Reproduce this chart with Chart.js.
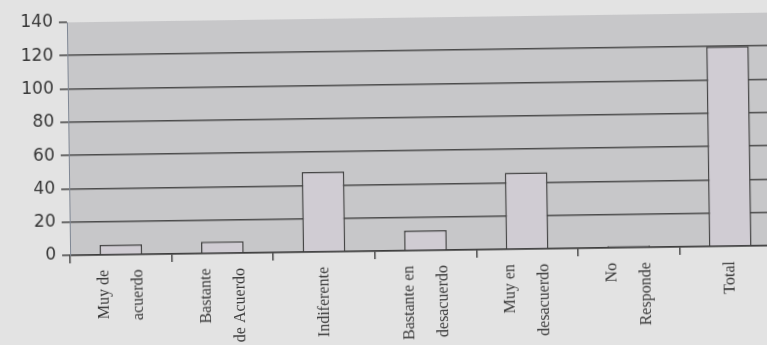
<!DOCTYPE html>
<html>
<head>
<meta charset="utf-8">
<script src="https://cdn.jsdelivr.net/npm/chart.js@4"></script>
<style>
  html, body { margin: 0; padding: 0; background: #e3e3e3; overflow: hidden; width: 767px; height: 345px; }
  #grafico { display: block; transform: rotate(-0.8deg); transform-origin: 383px 172px; }
</style>
</head>
<body>
<canvas id="grafico" width="790" height="345"></canvas>
<script>
// respuestas de la encuesta
const categorias = [
  ['Muy de', 'acuerdo'],
  ['Bastante', 'de Acuerdo'],
  ['Indiferente'],
  ['Bastante en', 'desacuerdo'],
  ['Muy en', 'desacuerdo'],
  ['No', 'Responde'],
  ['Total']
];
const respuestas = [6, 7, 48, 12, 46, 1, 120];
const marcasY = [0, 20, 40, 60, 80, 100, 120, 140];

const lineaOscura = '#4b4b4b';

// fondo gris solo dentro del area de trazado
const fondoArea = {
  id: 'fondoArea',
  beforeDraw(chart) {
    const { ctx, chartArea: a } = chart;
    ctx.save();
    ctx.fillStyle = '#c7c7c9';
    ctx.fillRect(a.left, a.top, a.right - a.left, a.bottom - a.top);
    ctx.restore();
  }
};

new Chart(document.getElementById('grafico'), {
  type: 'bar',
  data: {
    labels: categorias,
    datasets: [{
      data: respuestas,
      backgroundColor: '#d0ccd3',
      borderColor: '#454545',
      borderWidth: 1.5,
      barPercentage: 0.42,
      categoryPercentage: 1
    }]
  },
  options: {
    responsive: false,
    animation: false,
    devicePixelRatio: 1,
    layout: { padding: { top: 18, right: 10, left: 0, bottom: 0 } },
    plugins: {
      legend: { display: false },
      tooltip: { enabled: false }
    },
    scales: {
      x: {
        afterFit(scale) { scale.height = 94; },
        border: { display: true, color: '#3c3c3c', width: 1.5 },
        grid: { drawOnChartArea: false, tickColor: lineaOscura, tickLength: 8, lineWidth: 1.5 },
        ticks: {
          autoSkip: false,
          minRotation: 90,
          maxRotation: 90,
          padding: 7,
          labelOffset: -17,
          color: '#3a3a3a',
          // las etiquetas de una sola linea van centradas en su categoria
          callback: (v, i) => categorias[i].length === 1 ? ['', categorias[i][0]] : categorias[i],
          font: (c) => ({
            family: '"Liberation Serif", "DejaVu Serif", serif',
            size: 16,
            lineHeight: categorias[c.index] && categorias[c.index].length === 1 ? '17px' : '34px'
          })
        }
      },
      y: {
        min: 0,
        max: 140,
        afterFit(scale) { scale.width = 69; },
        afterBuildTicks(scale) { scale.ticks = marcasY.map(v => ({ value: v })); },
        border: { display: true, color: '#7f8794', width: 1 },
        grid: {
          color: (c) => c.tick && c.tick.value === 140 ? 'rgba(0,0,0,0)' : lineaOscura,
          tickColor: lineaOscura,
          lineWidth: 1.6,
          tickLength: 8
        },
        ticks: {
          padding: 6,
          color: '#363636',
          font: { family: '"DejaVu Sans", sans-serif', size: 17 }
        }
      }
    }
  },
  plugins: [fondoArea]
});
</script>
</body>
</html>
